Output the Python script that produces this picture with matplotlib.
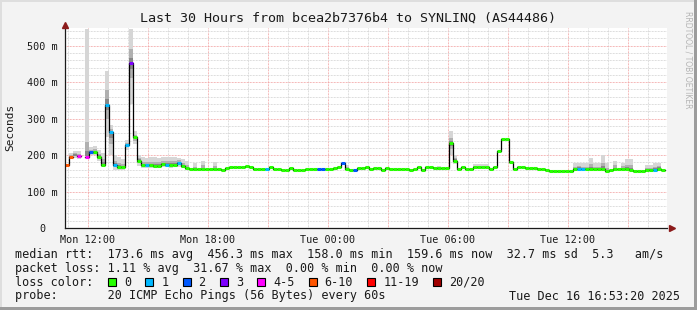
import numpy as np
import matplotlib.pyplot as plt
from matplotlib.patches import Rectangle

nan = np.nan

# 12 minute bins, first bin starts Mon 10:51 (hours counted from Mon 00:00)
t_first = 10.85
bin_h = 0.2

# median rtt per bin, in ms
median_ms = [
    172, 196, nan, 197, nan, 195, 208, 208, 195, 174,
    338, 262, 172, 167, 166, 227, 452, 249, 185, 172,
    173, 172, 170, 170, 175, 174, 173, 174, 179, 170,
    164, 161, 161, 161, 161, 161, 161, 161, 161, 158,
    164, 168, 168, 168, 168, 171, 166, 163, 163, 161,
    161, 168, 163, 163, 159, 159, 164, 158, 158, 158,
    161, 161, 161, 161, 161, 161, 161, 164, 168, 177,
    163, 159, 159, 164, 164, 168, 161, 164, 164, 158,
    164, 161, 161, 161, 162, 162, 158, 162, 166, 158,
    167, 167, 164, 164, 164, 164, 232, 185, 163, 167,
    163, 163, 167, 167, 167, 167, 163, 167, 212, 243,
    243, 180, 163, 167, 167, 164, 164, 164, 162, 162,
    159, 157, 157, 157, 156, 156, 156, 161, 163, 161,
    161, 161, 161, 161, 161, 156, 158, 161, 161, 163,
    161, 158, 156, 156, 156, 160, 160, 160, 163, 158,
]

# bins that lost packets -> index into loss_labels (all others 0)
loss_bins = [0, 1, 3, 5, 6, 10, 11, 12, 15, 16, 20, 25, 28, 50, 63, 64, 69, 72, 128, 129, 147]
loss_cats = [5, 5, 4, 4, 2, 1, 1, 1, 1, 3, 1, 1, 1, 1, 2, 2, 2, 2, 1, 1, 1]

loss_labels = ["0", "1", "2", "3", "4-5", "6-10", "11-19", "20/20"]
loss_colors = ["#26ff00", "#00b8ff", "#0059ff", "#7e00ff",
               "#ff00ff", "#ff5500", "#ff0000", "#a00000"]

# smoke (spread of the 20 pings) for bins where it is visible
smoke_bins = [1, 2, 3, 5, 6, 7, 8, 9, 10, 11, 12, 13, 14, 15, 16, 17, 18, 19,
              20, 21, 22, 23, 24, 25, 26, 27, 28, 29, 30, 32, 34, 37, 70, 93,
              96, 97, 102, 103, 104, 105, 127, 128, 129, 130, 131, 132, 133,
              134, 135, 137, 139, 140, 141, 145, 146, 147, 148]
smoke_lo = [190, 192, 190, 200, 200, 200, 185, 168, 250, 200, 160, 158, 158, 215, 340, 230, 170, 165,
            165, 165, 164, 164, 166, 166, 165, 166, 168, 165, 160, 158, 158, 158, 160, 160,
            200, 175, 163, 163, 163, 163, 158, 158, 158, 158, 158, 158, 158,
            158, 154, 158, 158, 158, 155, 156, 156, 156, 158]
smoke_hi = [207, 210, 210, 545, 222, 225, 215, 205, 432, 282, 200, 195, 190, 242, 545, 265, 200, 195,
            192, 195, 195, 193, 196, 195, 196, 195, 193, 190, 185, 178, 185, 182, 172, 169,
            267, 200, 175, 175, 175, 175, 178, 178, 178, 177, 192, 178, 178,
            200, 177, 185, 177, 190, 190, 172, 172, 177, 179]

hour_ticks = [12, 18, 24, 30, 36]
hour_labels = ["Mon 12:00", "Mon 18:00", "Tue 00:00", "Tue 06:00", "Tue 12:00"]
y_ticks = [0, 100, 200, 300, 400, 500]
y_labels = ["0  ", "100 m", "200 m", "300 m", "400 m", "500 m"]

title = "Last 30 Hours from bcea2b7376b4 to SYNLINQ (AS44486)"
rtt_line = "median rtt:  173.6 ms avg  456.3 ms max  158.0 ms min  159.6 ms now  32.7 ms sd  5.3   am/s"
loss_line = "packet loss: 1.11 % avg  31.67 % max  0.00 % min  0.00 % now"
probe_line = "probe:       20 ICMP Echo Pings (56 Bytes) every 60s"
stamp = "Tue Dec 16 16:53:20 2025"

W, H = 697, 310
mono = "DejaVu Sans Mono"
bg = "#f3f3f3"
ink = "#1a1a1a"

med = np.array(median_ms, dtype=float)
n = len(med)
t0 = t_first + bin_h * np.arange(n)
loss = np.zeros(n, dtype=int)
loss[loss_bins] = loss_cats

fig = plt.figure(figsize=(W / 100, H / 100), dpi=100, facecolor=bg)
ax = fig.add_axes([65 / W, 82 / H, 602 / W, 200.5 / H])
ax.set_facecolor("white")
ax.set_xlim(t_first, t_first + 602 / 20)
ax.set_ylim(0, 550)

# grid, dotted: red every 3 h / 100 ms, grey in between
dots = (0, (0.75, 0.75))
for h in range(11, 41):
    col = "#f2a4a4" if h % 3 == 0 else "#d4d4d4"
    ax.axvline(h, color=col, lw=0.72, ls=dots, zorder=0)
for v in range(20, 560, 20):
    col = "#f2a4a4" if v % 100 == 0 else "#d4d4d4"
    ax.axhline(v, color=col, lw=0.72, ls=dots, zorder=0)

# smoke: three shades, darker close to the median
for b, lo, hi in zip(smoke_bins, smoke_lo, smoke_hi):
    m = med[b] if not np.isnan(med[b]) else (lo + hi) / 2
    x = t0[b]
    layers = [(lo, hi, "#d6d6d6"),
              (m - min(0.5 * (m - lo), 40), m + min(0.45 * (hi - m), 40), "#b0b0b0"),
              (m - min(0.25 * (m - lo), 15), m + min(0.2 * (hi - m), 15), "#878787")]
    for a, c, col in layers:
        ax.bar(x, c - a, bottom=a, width=bin_h, align="edge", color=col, lw=0, zorder=1)

# median: black step line, then loss coloured marks
edges = np.append(t0, t0[-1] + bin_h)
ax.step(edges, np.append(med, med[-1]), where="post", color="black", lw=0.9, zorder=2)
ax.hlines(med, t0, t0 + bin_h, colors=[loss_colors[k] for k in loss], lw=2.2, zorder=3)

for s in ["top", "right"]:
    ax.spines[s].set_visible(False)
for s in ["left", "bottom"]:
    ax.spines[s].set_color(ink)
    ax.spines[s].set_linewidth(0.9)
    ax.spines[s].set_zorder(4)

ax.set_xticks(hour_ticks)
ax.set_xticklabels(hour_labels, family=mono, fontsize=7.3, color=ink)
ax.set_yticks(y_ticks)
ax.set_yticklabels(y_labels, family=mono, fontsize=7.3, color=ink)
ax.tick_params(length=0, pad=5)
ax.set_ylabel("Seconds", family=mono, fontsize=8, color=ink, labelpad=9)

# axis arrows
ax.plot([0], [1.01], marker="^", ms=5, color="#8b1a1a", transform=ax.transAxes, clip_on=False, zorder=5)
ax.plot([1.008], [0], marker=">", ms=5, color="#8b1a1a", transform=ax.transAxes, clip_on=False, zorder=5)

fig.text(348 / W, 1 - 18 / H, title, family=mono, fontsize=9.6, ha="center", va="center", color=ink)
fig.text(688 / W, 1 - 60 / H, "RRDTOOL / TOBI OETIKER", fontsize=5.5, rotation=270,
         ha="center", va="center", color="#b4b4b4")

rows = [254.3, 268.3, 282.3, 296.0]
cw = 7.1
fig.text(15 / W, 1 - rows[0] / H, rtt_line, family=mono, fontsize=8.5, va="center", color=ink)
fig.text(15 / W, 1 - rows[1] / H, loss_line, family=mono, fontsize=8.5, va="center", color=ink)
fig.text(15 / W, 1 - rows[2] / H, "loss color:", family=mono, fontsize=8.5, va="center", color=ink)
fig.text(15 / W, 1 - rows[3] / H, probe_line, family=mono, fontsize=8.5, va="center", color=ink)
fig.text(680 / W, 1 - rows[3] / H, stamp, family=mono, fontsize=8.5, va="center", ha="right", color=ink)

bx = 108.0
for lab, col in zip(loss_labels, loss_colors):
    fig.add_artist(Rectangle((bx / W, 1 - (rows[2] + 4) / H), 8 / W, 8 / H,
                             transform=fig.transFigure, facecolor=col, edgecolor="black", lw=0.8))
    fig.text((bx + 16) / W, 1 - rows[2] / H, lab, family=mono, fontsize=8.5, va="center", color=ink)
    bx += 16 + len(lab) * cw + 2 * cw

# 3d-ish frame around the canvas
fig.add_artist(Rectangle((0, 1 - 2 / H), 1, 2 / H, transform=fig.transFigure, color="#dedede", lw=0))
fig.add_artist(Rectangle((0, 0), 2 / W, 1, transform=fig.transFigure, color="#dedede", lw=0))
fig.add_artist(Rectangle((1 - 3 / W, 0), 3 / W, 1, transform=fig.transFigure, color="#9c9c9c", lw=0))
fig.add_artist(Rectangle((0, 0), 1, 3 / H, transform=fig.transFigure, color="#9c9c9c", lw=0))

fig.savefig("out.png", dpi=100, facecolor=bg)
